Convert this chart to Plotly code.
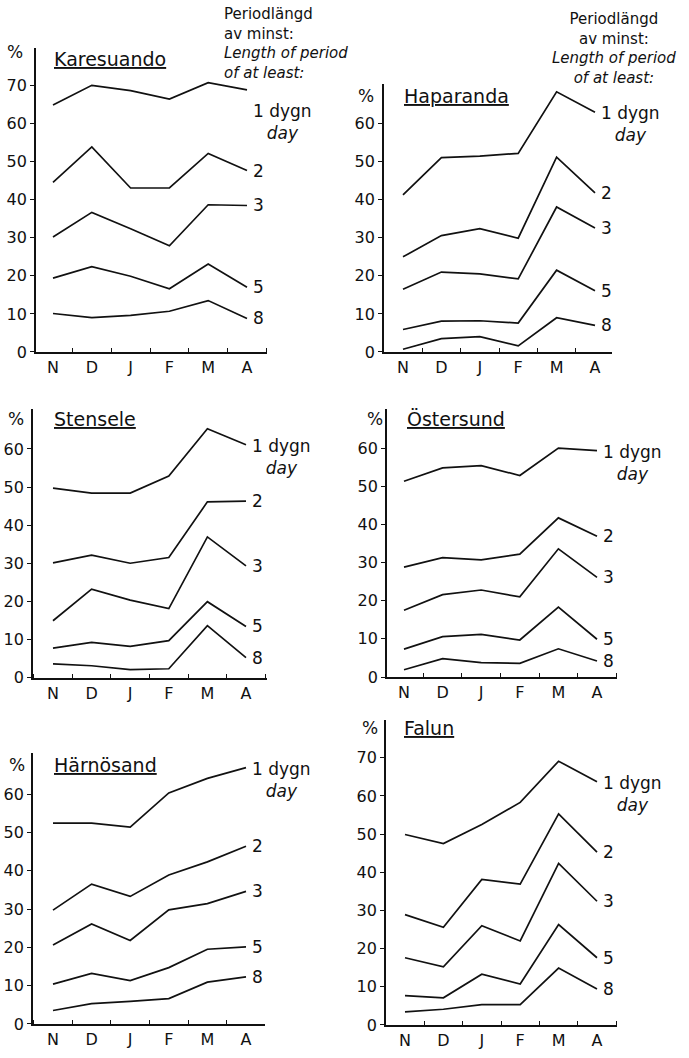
import plotly.graph_objects as go

W, H = 689, 1058

months = ["N", "D", "J", "F", "M", "A"]
periods = ["1", "2", "3", "5", "8"]

# Percent of winter days in periods of at least 1, 2, 3, 5, 8 days
karesuando = {
    "1": [64.9, 70.1, 68.7, 66.5, 70.8, 68.9],
    "2": [44.6, 53.9, 43.1, 43.1, 52.2, 47.7],
    "3": [30.2, 36.7, 32.4, 27.9, 38.7, 38.5],
    "5": [19.4, 22.4, 19.9, 16.6, 23.1, 17.0],
    "8": [10.1, 9.0, 9.6, 10.7, 13.5, 8.8],
}
haparanda = {
    "1": [41.3, 51.1, 51.5, 52.2, 68.4, 63.0],
    "2": [25.0, 30.6, 32.4, 29.9, 51.2, 41.8],
    "3": [16.5, 21.0, 20.5, 19.2, 38.1, 32.6],
    "5": [5.9, 8.1, 8.2, 7.6, 21.5, 16.1],
    "8": [0.7, 3.5, 4.0, 1.6, 9.0, 7.0],
}
stensele = {
    "1": [49.7, 48.4, 48.4, 52.9, 65.3, 61.1],
    "2": [30.1, 32.1, 30.0, 31.5, 46.1, 46.3],
    "3": [14.9, 23.2, 20.3, 18.1, 36.9, 29.3],
    "5": [7.7, 9.2, 8.2, 9.7, 19.9, 13.4],
    "8": [3.6, 3.1, 2.1, 2.3, 13.6, 5.2],
}
ostersund = {
    "1": [51.3, 54.8, 55.4, 52.8, 60.0, 59.3],
    "2": [28.8, 31.3, 30.7, 32.2, 41.7, 36.9],
    "3": [17.5, 21.6, 22.8, 21.0, 33.6, 26.1],
    "5": [7.3, 10.6, 11.2, 9.7, 18.3, 9.9],
    "8": [1.9, 4.8, 3.8, 3.6, 7.4, 4.2],
}
harnosand = {
    "1": [52.4, 52.4, 51.4, 60.3, 64.1, 66.9],
    "2": [29.7, 36.5, 33.3, 38.9, 42.3, 46.4],
    "3": [20.6, 26.1, 21.8, 29.8, 31.4, 34.6],
    "5": [10.4, 13.2, 11.3, 14.7, 19.5, 20.1],
    "8": [3.5, 5.3, 5.9, 6.6, 10.9, 12.3],
}
falun = {
    "1": [49.9, 47.5, 52.5, 58.3, 69.1, 63.7],
    "2": [28.9, 25.6, 38.1, 36.9, 55.3, 45.3],
    "3": [17.6, 15.2, 26.0, 22.0, 42.3, 32.4],
    "5": [7.7, 7.1, 13.3, 10.7, 26.3, 17.6],
    "8": [3.4, 4.1, 5.3, 5.3, 14.9, 9.4],
}

stations = ["Karesuando", "Haparanda", "Stensele", "Östersund", "Härnösand", "Falun"]
station_data = [karesuando, haparanda, stensele, ostersund, harnosand, falun]
y_ticks = [
    [0, 10, 20, 30, 40, 50, 60, 70],
    [0, 10, 20, 30, 40, 50, 60],
    [0, 10, 20, 30, 40, 50, 60],
    [0, 10, 20, 30, 40, 50, 60],
    [0, 10, 20, 30, 40, 50, 60],
    [0, 10, 20, 30, 40, 50, 60, 70],
]

# Panel geometry in pixels: axis left, axis right, first / last month x,
# y of the zero line, top of the y axis, pixels per percent
panels = [
    dict(left=36, right=267, xn=53, xa=247, zero=355.3, top=48, ppu=3.84),
    dict(left=384, right=612, xn=403, xa=595, zero=355.3, top=85, ppu=3.84),
    dict(left=33, right=267, xn=53, xa=246, zero=684.0, top=413, ppu=3.847),
    dict(left=387, right=617, xn=404, xa=597, zero=683.5, top=413, ppu=3.853),
    dict(left=33, right=265, xn=53, xa=246, zero=1033.7, top=760, ppu=3.867),
    dict(left=386, right=617, xn=405, xa=597, zero=1034.7, top=727, ppu=3.853),
]
title_pos = [(52, 60), (402, 97), (52, 423), (405, 423), (52, 772), (402, 735)]
pct_pos = [(15, 52), (366, 97), (16, 423), (375, 423), (17, 772), (370, 735)]

INK = "#111111"
FONT = "DejaVu Sans"


def font(size):
    return dict(size=size, family=FONT, color=INK)


fig = go.Figure()
layout = dict(
    width=W, height=H,
    margin=dict(l=0, r=0, t=0, b=0),
    paper_bgcolor="white", plot_bgcolor="white",
    showlegend=False,
    font=font(16),
)
annotations = []

for i, (name, data, g, ticks) in enumerate(zip(stations, station_data, panels, y_ticks)):
    n = i + 1
    xa_name = "xaxis" if n == 1 else f"xaxis{n}"
    ya_name = "yaxis" if n == 1 else f"yaxis{n}"
    xref = "x" if n == 1 else f"x{n}"
    yref = "y" if n == 1 else f"y{n}"
    step = (g["xa"] - g["xn"]) / 5.0
    xr = [(g["left"] - g["xn"]) / step, (g["right"] - g["xn"]) / step]
    yr = [0, (g["zero"] - g["top"]) / g["ppu"]]

    layout[xa_name] = dict(
        domain=[g["left"] / W, g["right"] / W],
        anchor=yref, range=xr,
        tickvals=list(range(6)), ticktext=months, ticks="",
        tickfont=font(16),
        minor=dict(ticks="inside", ticklen=4, tickwidth=1.2, tickcolor=INK,
                   tick0=0.5, dtick=1),
        showline=True, linecolor=INK, linewidth=1.8,
        showgrid=False, zeroline=False, fixedrange=True,
    )
    layout[ya_name] = dict(
        domain=[(H - g["zero"]) / H, (H - g["top"]) / H],
        anchor=xref, range=yr,
        tickvals=ticks, ticks="outside", ticklen=4, tickwidth=1.2, tickcolor=INK,
        tickfont=font(16),
        showline=True, linecolor=INK, linewidth=1.8,
        showgrid=False, zeroline=False, fixedrange=True,
    )

    for p in periods:
        fig.add_trace(go.Scatter(
            x=list(range(6)), y=data[p], mode="lines",
            line=dict(color=INK, width=1.7),
            xaxis=xref, yaxis=yref, hoverinfo="skip",
        ))
        end_val = data[p][-1]
        if p == "1":
            annotations.append(dict(
                x=5, y=end_val, xref=xref, yref=yref,
                text="1 dygn<br><i>day</i>", align="center",
                xanchor="left", yanchor="top", xshift=4,
                yshift=(11 - 20) if n == 1 else 11,
                showarrow=False, font=font(17),
            ))
        else:
            annotations.append(dict(
                x=5, y=end_val, xref=xref, yref=yref, text=p,
                xanchor="left", yanchor="middle", xshift=4,
                showarrow=False, font=font(17),
            ))

    tx, ty = title_pos[i]
    annotations.append(dict(
        x=tx / W, y=(H - ty) / H, xref="paper", yref="paper",
        text=f"<u>{name}</u>", xanchor="left", yanchor="middle",
        showarrow=False, font=font(19),
    ))
    px_, py_ = pct_pos[i]
    annotations.append(dict(
        x=px_ / W, y=(H - py_) / H, xref="paper", yref="paper",
        text="%", xanchor="center", yanchor="middle",
        showarrow=False, font=font(17),
    ))

header = "Periodlängd<br>av minst:<br><i>Length of period</i><br><i>of at least:</i>"
annotations.append(dict(
    x=222 / W, y=(H - 3) / H, xref="paper", yref="paper", text=header,
    align="left", xanchor="left", yanchor="top", showarrow=False,
    font=font(15),
))
annotations.append(dict(
    x=614 / W, y=(H - 8) / H, xref="paper", yref="paper", text=header,
    align="center", xanchor="center", yanchor="top", showarrow=False,
    font=font(15),
))

layout["annotations"] = annotations
fig.update_layout(**layout)
fig.write_html("out.html")
